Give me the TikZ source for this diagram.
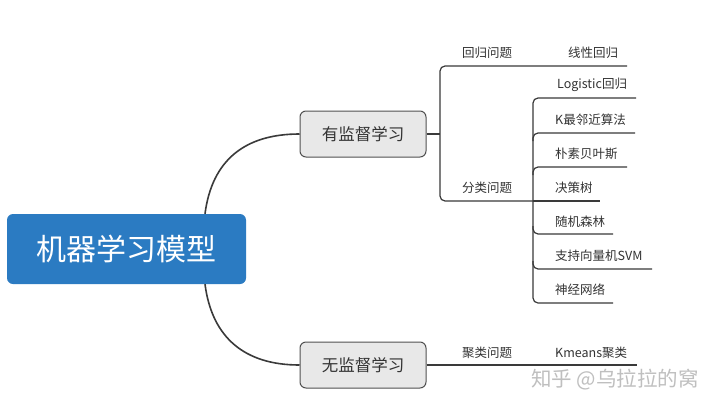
\documentclass[tikz,border=0pt]{standalone}
\usepackage{fontspec}
\setmainfont{Noto Sans CJK SC}
\begin{document}
\begin{tikzpicture}[x=1pt,y=-1pt,
  rootbox/.style={draw=none,fill=rootblue,rounded corners=6pt,minimum width=239pt,minimum height=70pt,text=white,font=\fontsize{30}{32}\selectfont,inner sep=0pt},
  subbox/.style={draw=boxline,fill=boxfill,line width=1pt,rounded corners=6pt,minimum width=126pt,minimum height=46pt,text=txt,font=\fontsize{16.5}{18}\selectfont,inner sep=0pt},
  lab/.style={text=txt,font=\fontsize{12.5}{14}\selectfont,inner sep=0pt},
  leaf/.style={lab,anchor=west},
  conn/.style={draw=lnc,line width=1.6pt},
  tree/.style={draw=lnc,line width=1.2pt,rounded corners=5pt},
]
\definecolor{rootblue}{HTML}{2B7BC2}
\definecolor{boxfill}{HTML}{E8E8E8}
\definecolor{boxline}{HTML}{505050}
\definecolor{lnc}{HTML}{3A3A3A}
\definecolor{txt}{HTML}{333333}
\useasboundingbox[fill=white] (0,0) rectangle (720,410);

\node[rootbox] (root) at (126.5,249) {机器学习模型};
\node[subbox] (sup) at (363,134) {有监督学习};
\node[subbox] (unsup) at (363,365) {无监督学习};

\draw[conn] ([xshift=78.5pt]root.north) .. controls (212,160) and (245,134) .. (sup.west);
\draw[conn] ([xshift=78.5pt]root.south) .. controls (212,338) and (245,365) .. (unsup.west);

% level 2 labels
\node[lab] (reg) at (487,53) {回归问题};
\node[lab] (cls) at (487,188) {分类问题};
\node[lab] (clu) at (487,353) {聚类问题};

% leaves
\node[lab] (lin) at (593,53) {线性回归};
\node[leaf] (l1) at (557,85) {Logistic回归};
\node[leaf] (l2) at (555,120) {K最邻近算法};
\node[leaf] (l3) at (555,154) {朴素贝叶斯};
\node[leaf] (l4) at (555,188) {决策树};
\node[leaf] (l5) at (555,222) {随机森林};
\node[leaf] (l6) at (555,256) {支持向量机SVM};
\node[leaf] (l7) at (555,290) {神经网络};
\node[leaf] (km) at (555,353) {Kmeans聚类};

% junction coordinates
\coordinate (j1) at (440,134);
\coordinate (j2) at (533,201);

% supervised tree
\draw[tree] (sup.east) -- (j1);
\draw[tree] (627,66) -- (j1 |- 0,66) -- (j1 |- j2) -- (j2);
\draw[tree] (j2) -- (600,201);
\draw[tree] (636,98) -- (j2 |- 0,98) -- (j2) -- (j2 |- 0,303) -- (613,303);
\draw[tree] (j2 |- 0,141) -- (j2 |- 0,133) -- (635,133);
\draw[tree] (j2 |- 0,175) -- (j2 |- 0,167) -- (627,167);
\draw[tree] (j2 |- 0,226) -- (j2 |- 0,234) -- (613,234);
\draw[tree] (j2 |- 0,261) -- (j2 |- 0,269) -- (652,269);

% unsupervised
\draw[tree] (unsup.east) -- (637,365);

\node[text=gray!50,font=\fontsize{20.5}{22}\selectfont,inner sep=0pt] (wm) at (615,380) {知乎 @乌拉拉的窝};
\end{tikzpicture}
\end{document}
